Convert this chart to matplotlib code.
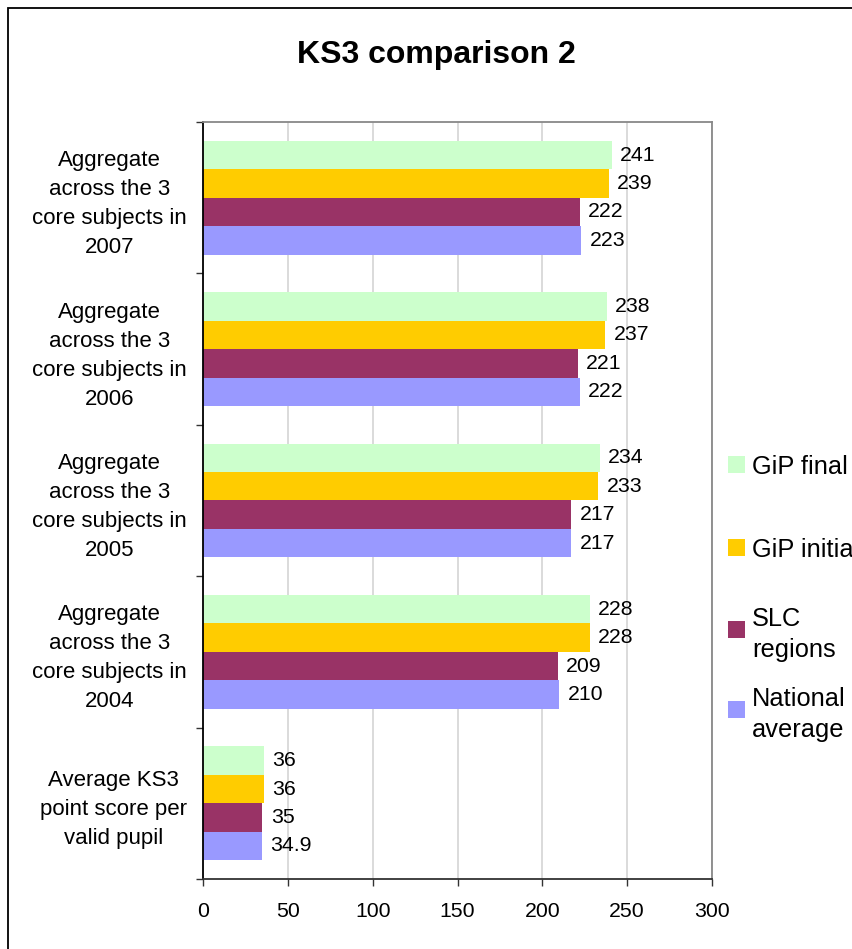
import numpy as np
import matplotlib
matplotlib.use('Agg')
from matplotlib import pyplot as plt
from matplotlib.patches import Rectangle

plt.rcParams['font.family'] = ['Liberation Sans', 'DejaVu Sans']

categories = ['Aggregate\nacross the 3\ncore subjects in\n2007',
              'Aggregate\nacross the 3\ncore subjects in\n2006',
              'Aggregate\nacross the 3\ncore subjects in\n2005',
              'Aggregate\nacross the 3\ncore subjects in\n2004',
              'Average KS3\npoint score per\nvalid pupil']
series_names = ['GiP final', 'GiP initial', 'SLC\nregions', 'National\naverage']
gip_final = [241, 238, 234, 228, 36]
gip_initial = [239, 237, 233, 228, 36]
slc_regions = [222, 221, 217, 209, 35]
national_avg = [223, 222, 217, 210, 34.9]
colors = ['#CCFFCC', '#FFCC00', '#993366', '#9999FF']
x_ticks = [0, 50, 100, 150, 200, 250, 300]

series = [gip_final, gip_initial, slc_regions, national_avg]

fig = plt.figure(figsize=(8.52, 9.49), dpi=100)
ax = fig.add_axes([203 / 852, 70 / 949, 509 / 852, 757 / 949])

pos = np.arange(len(categories))
h = 0.188
for j, vals in enumerate(series):
    bars = ax.barh(pos + (j - 1.5) * h, vals, height=h, color=colors[j],
                   edgecolor='none', zorder=2)
    ax.bar_label(bars, labels=['%g' % v for v in vals], padding=6,
                 fontsize=15.3)

ax.set_xlim(0, 300)
ax.set_ylim(len(categories) - 0.5, -0.5)
ax.set_xticks(x_ticks)
ax.set_xticklabels([str(t) for t in x_ticks], fontsize=15.3)
ax.tick_params(axis='x', direction='out', length=5, width=1, pad=11.5,
               color='#333333')
ax.set_yticks(pos)
ax.set_yticklabels(categories, fontsize=16, multialignment='center',
                   linespacing=1.5)
ax.tick_params(axis='y', which='major', length=0, pad=11.5)
ax.set_yticks(np.arange(len(categories) + 1) - 0.5, minor=True)
ax.tick_params(axis='y', which='minor', direction='out', length=5, width=1,
               color='#333333')
ax.grid(axis='x', color='#d4d4d4', linewidth=1.2, zorder=0)
ax.set_axisbelow(True)
ax.spines['left'].set_color('black')
ax.spines['bottom'].set_color('#333333')
ax.spines['top'].set_color('#888888')
ax.spines['right'].set_color('#888888')
for s in ax.spines.values():
    s.set_linewidth(1.3)

fig.text(436 / 852, 1 - 55 / 949, 'KS3 comparison 2', fontsize=23,
         fontweight='bold', ha='center', va='center')

# legend, drawn by hand to match the clipped layout
leg_y = [464.5, 547.5, 629, 709]
for name, c, yy in zip(series_names, colors, leg_y):
    fig.patches.append(Rectangle((728 / 852, 1 - (yy + 8.5) / 949),
                                 17 / 852, 17 / 949, transform=fig.transFigure,
                                 facecolor=c, edgecolor='none'))
    fig.text(752 / 852, 1 - yy / 949, name, fontsize=18.3, ha='left',
             va='center_baseline', linespacing=1.35)

# outer chart frame
fig.patches.append(Rectangle((8 / 852, -0.5), 2, 1.5 - 8 / 949,
                             transform=fig.transFigure, fill=False,
                             edgecolor='black', linewidth=1.3))

fig.savefig('out.png', dpi=100)
